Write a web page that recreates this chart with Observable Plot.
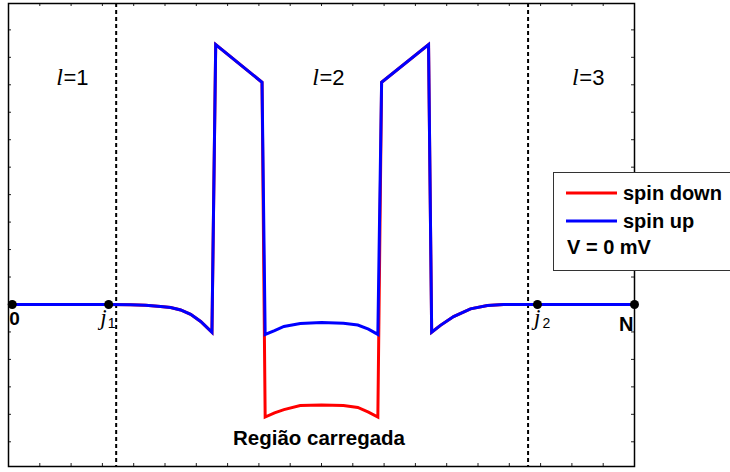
<!DOCTYPE html>
<html>
<head>
<meta charset="utf-8">
<script src="https://cdn.jsdelivr.net/npm/d3@7"></script>
<script src="https://cdn.jsdelivr.net/npm/@observablehq/plot@0.6"></script>
<style>
  html, body { margin: 0; padding: 0; background: #fff; }
  #wrap { position: relative; width: 730px; height: 472px; overflow: hidden; }
  #legend { position: absolute; left: 553px; top: 172px; }
</style>
</head>
<body>
<div id="wrap"></div>
<script>
// Site coordinate along the chain (0 … N = 100)
const profileX = [0.6, 16, 19.5, 21.9, 24.3, 25.9, 27.5, 29.1, 30.7, 32.5, 33.1, 40.5,
  41.0, 42.5, 44.0, 46.6, 50.0, 53.5, 55.8, 57.5, 59.0,
  59.6, 67.1, 67.6, 69.0, 71.1, 73.8, 76.5, 79.1, 84.5, 100];

// Spin-up profile
const spinUp = [0, 0, -0.001, -0.003, -0.007, -0.011, -0.020, -0.036, -0.062, -0.101, 0.946, 0.809,
  -0.109, -0.095, -0.080, -0.069, -0.066, -0.068, -0.075, -0.090, -0.109,
  0.809, 0.946, -0.101, -0.076, -0.044, -0.016, -0.004, 0, 0, 0];

// Spin-down profile (differs only inside the charged region)
const spinDown = [0, 0, -0.001, -0.003, -0.007, -0.011, -0.020, -0.036, -0.062, -0.101, 0.946, 0.809,
  -0.410, -0.395, -0.383, -0.368, -0.366, -0.368, -0.375, -0.392, -0.410,
  0.809, 0.946, -0.101, -0.076, -0.044, -0.016, -0.004, 0, 0, 0];

// Marked sites and layer boundaries
const siteNames = ["0", "j1", "j2", "N"];
const siteX = [0.6, 16.0, 84.5, 100];
const boundaryX = [17.2, 83.0];

// Layer labels l = 1, 2, 3
const layerNames = ["1", "2", "3"];
const layerX = [8.7, 49.6, 91.1];

// Legend entries
const seriesNames = ["spin down", "spin up"];
const seriesColors = ["#ff0000", "#0000ff"];
const biasLabel = "V = 0 mV";
const regionLabel = "Região carregada";

// Tick positions on the box
const xTicks = d3.range(0, 101, 5);
const yTicks = d3.range(-5, 11).map(k => k / 10);

const profile = profileX.map((x, i) => ({x, up: spinUp[i], down: spinDown[i]}));
const sites = siteNames.map((name, i) => ({name, x: siteX[i]}));
const layers = layerNames.map((name, i) => ({name, x: layerX[i]}));

const W = 730, H = 472;
const mL = 8, mR = 96, mT = 3, mB = 6;
const innerW = W - mL - mR, innerH = H - mT - mB;
const tickLen = 3;
const sans = "'Liberation Sans', Arial, sans-serif";
const serif = "'Liberation Serif', 'Times New Roman', serif";

const labelY = 0.7975;      // baseline of the layer labels
const siteLabelY = -0.076;  // baseline of the site labels

const chart = Plot.plot({
  width: W, height: H,
  marginLeft: mL, marginRight: mR, marginTop: mT, marginBottom: mB,
  x: {domain: [0, 100], axis: null},
  y: {domain: [-0.59, 1.096], axis: null},
  style: {fontFamily: sans, background: "#fff", color: "#000"},
  marks: [
    // inward ticks on all four sides
    Plot.ruleX(xTicks, {x: d => d, insetTop: innerH - tickLen, stroke: "#222", strokeWidth: 1}),
    Plot.ruleX(xTicks, {x: d => d, insetBottom: innerH - tickLen, stroke: "#222", strokeWidth: 1}),
    Plot.ruleY(yTicks, {y: d => d, insetRight: innerW - tickLen, stroke: "#222", strokeWidth: 1}),
    Plot.ruleY(yTicks, {y: d => d, insetLeft: innerW - tickLen, stroke: "#222", strokeWidth: 1}),
    // layer boundaries
    Plot.ruleX(boundaryX, {x: d => d, stroke: "#000", strokeWidth: 2, strokeDasharray: "4,3"}),
    // spin profiles
    Plot.line(profile, {x: "x", y: "down", stroke: seriesColors[0], strokeWidth: 3, strokeLinejoin: "miter", strokeMiterlimit: 3}),
    Plot.line(profile, {x: "x", y: "up", stroke: seriesColors[1], strokeWidth: 3, strokeLinejoin: "miter", strokeMiterlimit: 3}),
    // sites
    Plot.dot(sites, {x: "x", y: () => 0, r: 4.5, fill: "#000", stroke: null}),
    Plot.text(sites.filter(d => d.name === "0"), {x: "x", y: () => -0.073, text: "name", textAnchor: "start", lineAnchor: "bottom", dx: -3, fontSize: 19, fontWeight: "bold"}),
    Plot.text(sites.filter(d => d.name === "N"), {x: "x", y: () => -0.095, text: "name", textAnchor: "end", lineAnchor: "bottom", dx: -1, fontSize: 20, fontWeight: "bold"}),
    Plot.text(sites.filter(d => d.name === "j1"), {x: "x", y: () => siteLabelY, text: () => "j", textAnchor: "end", lineAnchor: "bottom", dx: -2, fontSize: 23, fontStyle: "italic", fontFamily: serif}),
    Plot.text(sites.filter(d => d.name === "j1"), {x: "x", y: () => -0.087, text: d => d.name.slice(1), textAnchor: "start", lineAnchor: "bottom", dx: -1, fontSize: 14}),
    Plot.text(sites.filter(d => d.name === "j2"), {x: "x", y: () => siteLabelY, text: () => "j", textAnchor: "end", lineAnchor: "bottom", dx: 3, fontSize: 23, fontStyle: "italic", fontFamily: serif}),
    Plot.text(sites.filter(d => d.name === "j2"), {x: "x", y: () => -0.084, text: d => d.name.slice(1), textAnchor: "start", lineAnchor: "bottom", dx: 5, fontSize: 14}),
    // layer labels
    Plot.text(layers, {x: "x", y: () => labelY, text: () => "l", textAnchor: "end", lineAnchor: "bottom", fontSize: 24, fontStyle: "italic", fontFamily: serif}),
    Plot.text(layers, {x: "x", y: () => labelY, text: d => "=" + d.name, textAnchor: "start", lineAnchor: "bottom", dx: 0.5, fontSize: 22}),
    // charged region label
    Plot.text([regionLabel], {x: () => 49.6, y: () => -0.513, text: d => d, textAnchor: "middle", lineAnchor: "bottom", fontSize: 20.5, fontWeight: "bold"}),
    Plot.frame({stroke: "#000", strokeWidth: 1.5})
  ]
});

const wrap = document.getElementById("wrap");
wrap.appendChild(chart);

// Legend box
const leg = d3.select(wrap).append("svg")
  .attr("id", "legend")
  .attr("width", 180).attr("height", 101)
  .style("font-family", sans);
leg.append("rect")
  .attr("x", 0.5).attr("y", 0.5).attr("width", 200).attr("height", 98)
  .attr("fill", "#fff").attr("stroke", "#333").attr("stroke-width", 1);
seriesNames.forEach((name, i) => {
  const cy = 21 + i * 28;
  leg.append("line")
    .attr("x1", 13).attr("x2", 64).attr("y1", cy).attr("y2", cy)
    .attr("stroke", seriesColors[i]).attr("stroke-width", 3);
  leg.append("text")
    .attr("x", 70).attr("y", cy + 7)
    .attr("font-size", 20).attr("font-weight", "bold")
    .text(name);
});
leg.append("text")
  .attr("x", 14).attr("y", 82)
  .attr("font-size", 20).attr("font-weight", "bold")
  .text(biasLabel);
</script>
</body>
</html>
